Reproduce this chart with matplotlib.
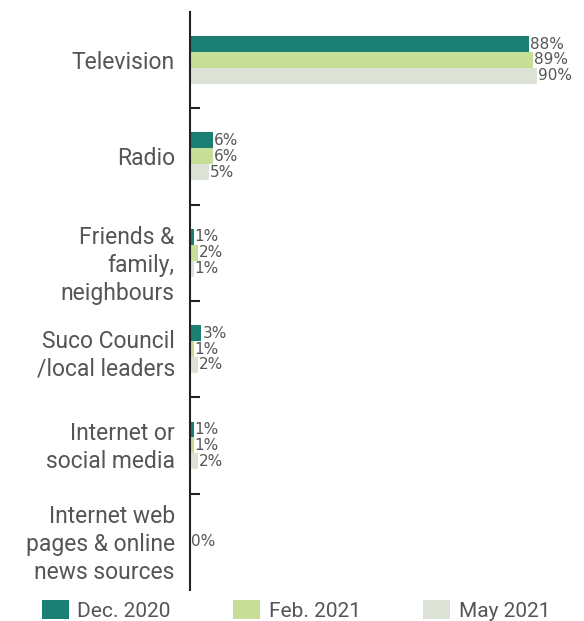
import numpy as np
import matplotlib.pyplot as plt
from matplotlib.patches import Patch
from matplotlib.ticker import FixedLocator
from matplotlib.transforms import ScaledTranslation

plt.rcParams['font.family'] = ['Roboto', 'DejaVu Sans']

categories = ['Television', 'Radio', 'Friends &\nfamily,\nneighbours',
              'Suco Council\n/local leaders', 'Internet or\nsocial media',
              'Internet web\npages & online\nnews sources']
periods = ['Dec. 2020', 'Feb. 2021', 'May 2021']
dec_2020 = [88, 6, 1, 3, 1, 0]
feb_2021 = [89, 6, 2, 1, 1, 0]
may_2021 = [90, 5, 1, 2, 2, 0]

colors = ['#1b7f74', '#c6de98', '#dce3d6']
text_col = '#555555'

fig = plt.figure(figsize=(5.84, 6.21), dpi=100)
ax = fig.add_axes([0.325, 0.05, 0.66, 0.931])

y = np.arange(len(categories))
h = 0.165
series = [dec_2020, feb_2021, may_2021]
for i, (vals, c) in enumerate(zip(series, colors)):
    pos = y + (i - 1) * h
    ax.barh(pos, vals, height=h, color=c, edgecolor='none')
    for p, v in zip(pos, vals):
        # the last group is all zero, show a single label for it
        if v == 0 and i != 1:
            continue
        ax.text(v + 0.3, p, f'{v}%', va='center', ha='left',
                fontsize=11, color=text_col, family='DejaVu Sans')

ax.set_xlim(0, 100)
ax.set_ylim(len(categories) - 0.5, -0.5)

# category names drawn as text so a few can be nudged down
ytrans = ax.get_yaxis_transform()
nudge = {2: -0.13, 3: -0.06}
for k, (yy, name) in enumerate(zip(y, categories)):
    tr = ytrans + ScaledTranslation(-0.15, nudge.get(k, -0.025),
                                    fig.dpi_scale_trans)
    ax.text(0, yy, name, transform=tr, ha='right', va='center',
            multialignment='right', fontsize=16.5, color=text_col,
            linespacing=1.28)

ax.set_yticks([])
ax.yaxis.set_minor_locator(FixedLocator(y[:-1] + 0.5))
ax.tick_params(axis='y', which='minor', length=7, width=1.5,
               direction='in', color='#222222')
ax.set_xticks([])
for s in ['top', 'right', 'bottom']:
    ax.spines[s].set_visible(False)
ax.spines['left'].set_linewidth(1.5)
ax.spines['left'].set_color('#222222')

handles = [Patch(facecolor=c, edgecolor='none') for c in colors]
fig.legend(handles, periods, loc='lower center', ncol=3, frameon=False,
           bbox_to_anchor=(0.507, -0.03), fontsize=15, labelcolor=text_col,
           handlelength=1.3, handleheight=1.0, handletextpad=0.4,
           columnspacing=3.0)

fig.savefig('out.png', dpi=100)
